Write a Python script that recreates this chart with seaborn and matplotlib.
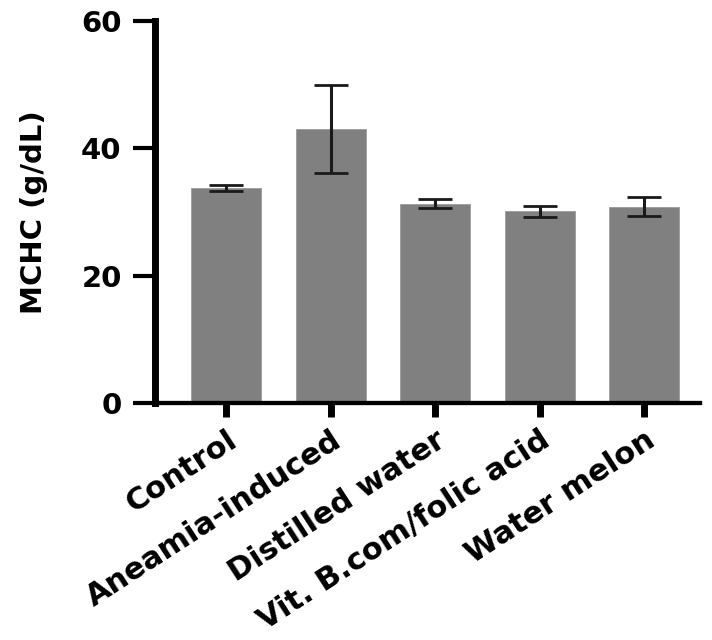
import matplotlib
matplotlib.use("Agg")
import matplotlib.pyplot as plt
import seaborn as sns
import pandas as pd

categories = ["Control", "Aneamia-induced", "Distilled water", "Vit. B.com/folic acid", "Water melon"]
means = [33.8, 43.0, 31.3, 30.1, 30.8]
errors = [0.5, 6.9, 0.75, 0.85, 1.5]
yticks = [0, 20, 40, 60]
ylabel = "MCHC (g/dL)"

sns.set_theme(style="white")
plt.rcParams["font.family"] = ["DejaVu Sans"]
plt.rcParams["font.weight"] = "bold"
plt.rcParams["text.color"] = "black"
plt.rcParams["axes.labelcolor"] = "black"
plt.rcParams["xtick.color"] = "black"
plt.rcParams["ytick.color"] = "black"

df = pd.DataFrame({"group": categories, "value": means, "err": errors})

fig = plt.figure(figsize=(7.12, 6.4), dpi=100)
ax = fig.add_axes([155 / 712, 1 - 403 / 640, (700 - 155) / 712, (403 - 21) / 640])

sns.barplot(data=df, x="group", y="value", color="#808080", saturation=1,
            errorbar=None, width=0.67, ax=ax, edgecolor="#9a9a9a", linewidth=0.6)
ax.errorbar(range(len(categories)), df["value"], yerr=df["err"], fmt="none",
            ecolor="#1a1a1a", elinewidth=2.2, capsize=12.5, capthick=2.0, zorder=5)

ax.set_xlim(-0.68, 4.536)
ax.set_ylim(0, 60)
ax.set_yticks(yticks)
ax.set_yticklabels([str(t) for t in yticks], fontsize=21, fontweight="bold", color="black")
ax.set_xlabel("")
ax.set_ylabel(ylabel, fontsize=21, fontweight="bold", labelpad=24, color="black")

for s in ["top", "right"]:
    ax.spines[s].set_visible(False)
ax.spines["left"].set_linewidth(5)
ax.spines["bottom"].set_linewidth(3.1)
ax.spines["left"].set_color("black")
ax.spines["bottom"].set_color("black")

ax.tick_params(axis="y", which="major", length=16, width=3, color="black", pad=8, left=True)
ax.tick_params(axis="x", which="major", length=10, width=5, color="black", pad=6, bottom=True)

ax.set_xticks(range(len(categories)))
ax.set_xticklabels(categories, rotation=33, ha="right", va="top",
                   rotation_mode="anchor", fontsize=22, fontweight="bold", color="black")

fig.savefig("out.png", dpi=100, facecolor="white")
